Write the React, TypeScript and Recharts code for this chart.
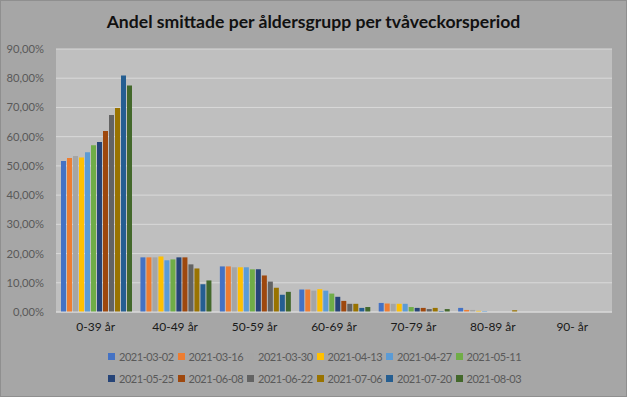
import React from 'react';
import { BarChart, Bar, XAxis, YAxis, CartesianGrid } from 'recharts';

// age groups on the x axis
const AGE_GROUPS = ['0-39 år', '40-49 år', '50-59 år', '60-69 år', '70-79 år', '80-89 år', '90- år'];

// two-week periods (series)
const PERIODS = [
  '2021-03-02', '2021-03-16', '2021-03-30', '2021-04-13', '2021-04-27', '2021-05-11',
  '2021-05-25', '2021-06-08', '2021-06-22', '2021-07-06', '2021-07-20', '2021-08-03',
];

const COLORS = [
  '#4472C4', '#ED7D31', '#A5A5A5', '#FFC000', '#5B9BD5', '#70AD47',
  '#264478', '#9E480E', '#636363', '#997300', '#255E91', '#43682B',
];

// share (%) per age group, one array per period
const P_0302 = [51.7, 18.7, 15.6, 7.7, 3.1, 1.4, 0];
const P_0316 = [52.7, 18.7, 15.6, 7.7, 2.9, 0.7, 0];
const P_0330 = [53.4, 18.7, 15.3, 7.3, 2.8, 0.7, 0];
const P_0413 = [52.9, 19.0, 15.3, 7.8, 2.8, 0.4, 0];
const P_0427 = [54.7, 17.7, 15.3, 7.3, 2.8, 0.35, 0];
const P_0511 = [57.1, 18.0, 14.6, 6.3, 1.7, 0, 0];
const P_0525 = [58.2, 18.7, 14.6, 5.2, 1.4, 0, 0];
const P_0608 = [61.9, 18.7, 12.5, 3.8, 1.4, 0, 0];
const P_0622 = [67.4, 16.3, 10.4, 2.8, 1.0, 0, 0];
const P_0706 = [69.8, 14.9, 8.3, 2.8, 1.4, 0.6, 0];
const P_0720 = [80.9, 9.5, 5.9, 1.4, 0.35, 0, 0];
const P_0803 = [77.5, 10.8, 6.9, 1.7, 1.0, 0, 0];

const SERIES = [P_0302, P_0316, P_0330, P_0413, P_0427, P_0511, P_0525, P_0608, P_0622, P_0706, P_0720, P_0803];

const Y_TICKS = [0, 10, 20, 30, 40, 50, 60, 70, 80, 90];

const FONT = 'Lato, "Liberation Sans", sans-serif';

const fmtPct = (v: number) => `${v.toFixed(2).replace('.', ',')}%`;

const ChartLegend = () => (
  <div
    style={{
      position: 'absolute',
      top: 345,
      left: 108,
      width: 420,
      display: 'flex',
      flexWrap: 'wrap',
      fontFamily: FONT,
      fontSize: 11,
      letterSpacing: -0.45,
      color: '#595959',
    }}
  >
    {PERIODS.map((p, i) => (
      <div key={p} style={{ width: 69.5, height: 22, display: 'flex', alignItems: 'center', whiteSpace: 'nowrap' }}>
        <span style={{ width: 7, height: 7, background: COLORS[i], marginRight: 4, flexShrink: 0 }} />
        <span>{p}</span>
      </div>
    ))}
  </div>
);

export default function App() {
  const data = AGE_GROUPS.map((name, gi) => {
    const row: Record<string, any> = { name };
    PERIODS.forEach((p, si) => {
      row[p] = SERIES[si][gi];
    });
    return row;
  });

  return (
    <div style={{ position: 'absolute', left: 0, top: 0, width: 627, height: 397, background: '#a6a6a6' }}>
      <div
        style={{
          position: 'absolute',
          top: 11,
          left: 0,
          width: 627,
          textAlign: 'center',
          fontFamily: FONT,
          fontWeight: 700,
          fontSize: 17.6,
          color: '#111',
        }}
      >
        Andel smittade per åldersgrupp per tvåveckorsperiod
      </div>
      <BarChart
        width={627}
        height={397}
        data={data}
        margin={{ top: 49, right: 15, bottom: 55, left: 0 }}
        barCategoryGap={5}
        barGap={1}
      >
        <CartesianGrid vertical={false} stroke="#d9d9d9" fill="#bfbfbf" fillOpacity={1} />
        <XAxis
          dataKey="name"
          height={30}
          axisLine={{ stroke: '#d9d9d9' }}
          tickLine={false}
          tickSize={0}
          tickMargin={10}
          tick={{ fill: '#1a1a1a', fontSize: 12, fontFamily: FONT }}
          interval={0}
        />
        <YAxis
          width={56}
          domain={[0, 90]}
          ticks={Y_TICKS}
          tickFormatter={fmtPct}
          axisLine={false}
          tickLine={false}
          tickSize={0}
          tickMargin={12}
          tick={{ fill: '#595959', fontSize: 11.2, fontFamily: FONT }}
        />
        {PERIODS.map((p, i) => (
          <Bar key={p} dataKey={p} fill={COLORS[i]} isAnimationActive={false} />
        ))}
      </BarChart>
      <ChartLegend />
      <div
        style={{
          position: 'absolute',
          left: 0,
          top: 0,
          width: 625,
          height: 395,
          border: '1px solid #8f8f8f',
          pointerEvents: 'none',
        }}
      />
    </div>
  );
}
